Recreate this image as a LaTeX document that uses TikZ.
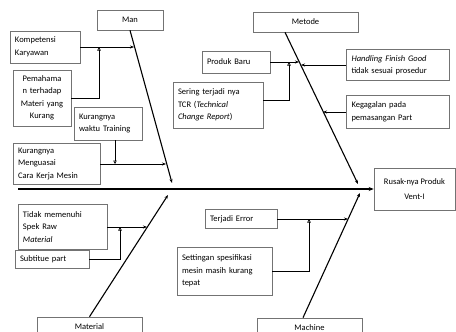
\documentclass[tikz,border=0pt]{standalone}
\usepackage{fontspec}
\setmainfont{Carlito}
\usetikzlibrary{arrows.meta}

\begin{document}
\begin{tikzpicture}[x=1pt, y=-1pt,
  box/.style={draw=black!55, line width=0.6pt, inner xsep=5pt, inner ysep=2pt,
    font=\fontsize{8.5}{12.5}\selectfont},
  cat/.style={box, minimum width=105pt, minimum height=20pt, align=center},
  bone/.style={line width=1.1pt, -{Stealth[length=4pt, width=3pt]}},
  arr/.style={line width=0.9pt, -{Stealth[length=4pt, width=3pt]}},
  sub/.style={line width=0.6pt, -{Triangle[open, length=3.5pt, width=3.5pt]}}]
  \useasboundingbox (0,0) rectangle (456,332);
  % head and backbone
  \node[box, align=center, minimum width=81pt, minimum height=42pt] (head) at (414.5,189) {Rusak-nya Produk\\[3pt]Vent-I};
  \coordinate (tail) at (18,189);
  \draw[line width=1.5pt, -{Stealth[length=5pt, width=4pt]}] (tail) -- (head.west);
  % category boxes
  \node[cat, minimum width=66pt] (man) at (130,20) {Man};
  \node[cat] (metode) at (305.5,22) {Metode};
  \node[cat] (material) at (89.5,327) {Material};
  \node[cat] (machine) at (309.5,328) {Machine};
  % bones
  \coordinate (manEnd) at (172,183);
  \coordinate (metEnd) at (358,184);
  \coordinate (matEnd) at (168,195);
  \coordinate (macEnd) at (360,193);
  \draw[bone] (man.south) -- (manEnd);
  \draw[bone] ([xshift=-20.5pt]metode.south) -- (metEnd);
  \draw[bone] (material.north) -- (matEnd);
  \draw[bone] ([xshift=-6.5pt]machine.north) -- (macEnd);
  % --- Man ---
  \node[box, text width=60pt, minimum height=32pt] (komp) at (45,47) {Kompetensi\\Karyawan};
  \node[box, text width=48pt, align=center, minimum height=56pt] (pem) at (42,98) {Pemahama\\n terhadap\\Materi yang\\Kurang};
  \node[box, text width=58pt, minimum height=33pt] (waktu) at (108,123.5) {Kurangnya\\waktu Training};
  \node[box, text width=77pt, minimum height=41pt] (meng) at (56.5,164) {Kurangnya\\Menguasai\\Cara Kerja Mesin};
  \coordinate (mk1) at (134,47);  \coordinate (mk2) at (166,164);
  \coordinate (j1) at (99,47);    \coordinate (j2) at (115,164);
  \draw[arr] (komp.east) -- (mk1);
  \draw[arr] (meng.east) -- (mk2);
  \draw[sub] (pem.east) -| (j1);
  \draw[sub] (waktu.south -| j2) -- (j2);
  % --- Metode ---
  \node[box, text width=58pt, minimum height=22pt] (produk) at (236,62) {Produk Baru};
  \node[box, text width=80pt, minimum height=46pt] (tcr) at (218,105) {Sering terjadi nya\\TCR (\textit{Technical}\\\textit{Change Report})};
  \node[box, text width=93pt, minimum height=31pt] (hand) at (398,65) {\textit{Handling Finish Good}\\tidak sesuai prosedur};
  \node[box, text width=93pt, minimum height=33pt] (keg) at (398,112) {Kegagalan pada\\pemasangan Part};
  \coordinate (mt1) at (299,62);  \coordinate (mt2) at (301,65);
  \coordinate (mt3) at (323,112); \coordinate (j3) at (289,62);
  \draw[arr] (produk.east) -- (mt1);
  \draw[arr] (hand.west) -- (mt2);
  \draw[arr] (keg.west) -- (mt3);
  \draw[sub] ([yshift=5pt]tcr.east) -| (j3);
  % --- Material ---
  \node[box, text width=79pt, minimum height=45pt] (tidak) at (62.5,227) {Tidak memenuhi\\Spek Raw\\\textit{Material}};
  \node[box, text width=64pt, minimum height=18pt] (subt) at (52,259) {Subtitue part};
  \coordinate (ma1) at (147,227); \coordinate (j4) at (120,227);
  \draw[arr] (tidak.east) -- (ma1);
  \draw[sub] (subt.east) -| (j4);
  % --- Machine ---
  \node[box, text width=62pt, minimum height=19pt] (err) at (241,219) {Terjadi Error};
  \node[box, text width=85pt, minimum height=48pt] (set) at (224.5,271) {Settingan spesifikasi\\mesin masih kurang\\tepat};
  \coordinate (mc1) at (348,219); \coordinate (j5) at (309,219);
  \draw[arr] (err.east) -- (mc1);
  \draw[sub] (set.east) -| (j5);
\end{tikzpicture}
\end{document}
